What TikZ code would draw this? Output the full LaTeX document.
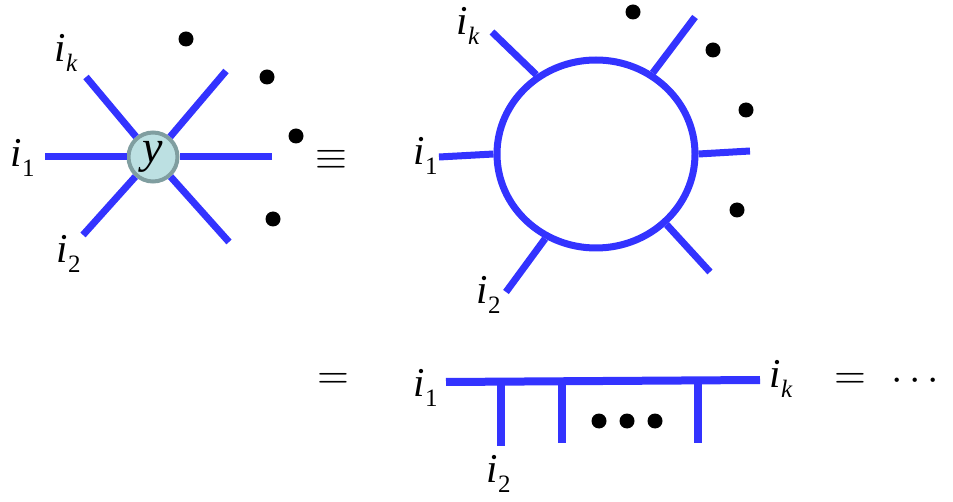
\documentclass[tikz,border=0pt]{standalone}
\usepackage{graphicx}
\usepackage{fontspec}
\setmainfont{Liberation Serif}
\usetikzlibrary{positioning, shapes.geometric}
\definecolor{legblue}{RGB}{51,51,255}
\definecolor{vfill}{RGB}{188,224,226}
\definecolor{vdraw}{RGB}{128,158,160}
\newcommand{\idx}[1]{\textit{i}\kern0.5pt\raisebox{-10pt}{\fontsize{25}{28}\selectfont #1}}
\newcommand{\bigsym}[1]{\scalebox{4.1}{$#1$}}

\tikzset{
  leg/.style={legblue, line width=7pt},
  wideleg/.style={legblue, line width=8pt},
  dot/.style={circle, fill=black, inner sep=0pt, minimum size=15pt},
  lbl/.style={font=\fontsize{41}{48}\selectfont, inner sep=0pt, anchor=base west},
  sym/.style={inner sep=0pt}
}

\begin{document}
\begin{tikzpicture}[x=1pt, y=-1pt]
\useasboundingbox (0,0) rectangle (953,502);

% Vertex y with its legs
\node[circle,draw=vdraw,fill=vfill,line width=4pt,minimum size=49pt,inner sep=0pt,font=\fontsize{46}{52}\selectfont] at (153,157) (y) {\textit{y}};
\coordinate (yL) at (45,157);
\coordinate (yR) at (272,157);
\coordinate (yUL) at (86,77);
\coordinate (yUR) at (226,71);
\coordinate (yDL) at (83,235);
\coordinate (yDR) at (229,242);
\foreach \e in {yL,yR,yUL,yUR,yDL,yDR}
  \draw[leg] (\e) -- (y);

\node[lbl] at (54,62) (yk) {\idx{\itshape k}};
\node[lbl] at (10,167) (y1) {\idx{1}};
\node[lbl] at (56,263) (y2) {\idx{2}};

\node[dot] at (186,39) (yd1) {};
\node[dot] at (267,77) (yd2) {};
\node[dot] at (296,136) (yd3) {};
\node[dot] at (273,219) (yd4) {};

\node[sym] at (331,160) (eqv) {\bigsym{\equiv}};

% Loop with its legs
\node[ellipse,draw=legblue,line width=7pt,minimum width=198pt,minimum height=188pt,inner sep=0pt] at (596,154) (ring) {};
\coordinate (rk) at (492,32);
\coordinate (rUR) at (695,17);
\coordinate (rR) at (750,151);
\coordinate (rDR) at (710,272);
\coordinate (rDL) at (506,292);
\coordinate (rL) at (439,157);
\draw[leg] (rk) -- (ring.127);
\draw[leg] (rUR) -- (ring.55);
\draw[leg] (rR) -- (ring.0);
\draw[leg] (rDR) -- (ring.315);
\draw[leg] (rDL) -- (ring.239);
\draw[leg] (rL) -- (ring.180);

\node[lbl] at (456,35) (rkl) {\idx{\itshape k}};
\node[lbl] at (413,165) (r1l) {\idx{1}};
\node[lbl] at (476,304) (r2l) {\idx{2}};

\node[dot] at (633,12) (rd1) {};
\node[dot] at (713,50) (rd2) {};
\node[dot] at (746,110) (rd3) {};
\node[dot] at (737,210) (rd4) {};

% Comb
\node[sym] at (333,381) (eq1) {\bigsym{=}};
\coordinate (bL) at (446,382);
\coordinate (bR) at (760,380);
\draw[wideleg] (bL) -- (bR);
\coordinate (t1) at (501,382);
\coordinate (t2) at (562,381);
\coordinate (t3) at (698,380);
\coordinate (f1) at (501,446);
\coordinate (f2) at (562,443);
\coordinate (f3) at (698,443);
\draw[wideleg] (t1) -- (f1);
\draw[wideleg] (t2) -- (f2);
\draw[wideleg] (t3) -- (f3);

\node[dot] at (599,421) (bd1) {};
\node[dot] at (627,421) (bd2) {};
\node[dot] at (655,421) (bd3) {};

\node[lbl] at (413,396) (b1l) {\idx{1}};
\node[lbl] at (486,482) (b2l) {\idx{2}};
\node[lbl] at (769,388) (bkl) {\idx{\itshape k}};

\node[sym] at (850,381) (eq2) {\bigsym{=}};
\node[sym] at (915,381) (more) {\bigsym{\cdots}};
\end{tikzpicture}
\end{document}
